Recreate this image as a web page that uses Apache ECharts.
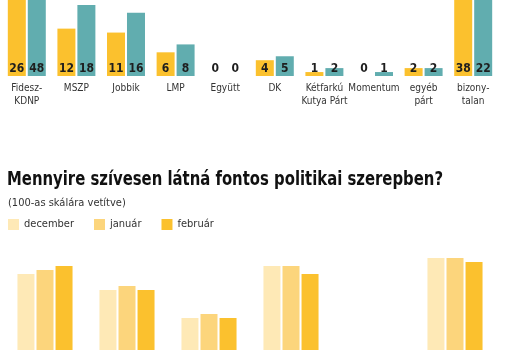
<!DOCTYPE html>
<html>
<head>
<meta charset="utf-8">
<script src="https://cdn.jsdelivr.net/npm/echarts@6/dist/echarts.min.js"></script>
<style>
  html, body { margin: 0; padding: 0; background: #fff; }
  #chart { width: 510px; height: 350px; }
</style>
</head>
<body>
<div id="chart"></div>
<script>
// upper chart (cropped at the top in the original)
const parties = ['Fidesz-\nKDNP', 'MSZP', 'Jobbik', 'LMP', 'Együtt', 'DK',
  'Kétfarkú\nKutya Párt', 'Momentum', 'egyéb\npárt', 'bizony-\ntalan']
const yellowValues = [26, 12, 11, 6, 0, 4, 1, 0, 2, 38]
const tealValues = [48, 18, 16, 8, 0, 5, 2, 1, 2, 22]

// lower chart (cropped at the bottom, category labels not visible)
const people = ['1', '2', '3', '4', '5', '6']
const months = ['december', 'január', 'február']
const decValues = [49, 45, 38, 51, null, 53]
const janValues = [50, 46, 39, 51, null, 53]
const febValues = [51, 45, 38, 49, null, 52]

const font = '"DejaVu Sans Condensed", Roboto, sans-serif'
const YELLOW = '#fbc12e'
const TEAL = '#61adaf'
const monthColors = ['#fee9b6', '#fcd57c', '#fbc12e']

const titleText = 'Mennyire szívesen látná fontos politikai szerepben?'
const titleSize = 19
// squeeze the title horizontally so it spans the same width as the original
const ctx = document.createElement('canvas').getContext('2d')
ctx.font = 'bold ' + titleSize + 'px ' + font
const titleScale = 436 / ctx.measureText(titleText).width

const chart = echarts.init(document.getElementById('chart'))

const barLabel = {
  show: true,
  position: 'insideBottom',
  distance: 1,
  color: '#1e1e1e',
  fontFamily: font,
  fontWeight: 'bold',
  fontSize: 12
}

const option = {
  animation: false,
  textStyle: { fontFamily: font },
  title: {
    text: '(100-as skálára vetítve)',
    left: 8,
    top: 198,
    padding: 0,
    textStyle: { fontFamily: font, fontSize: 11, fontWeight: 'normal', color: '#333' }
  },
  graphic: [
    {
      type: 'text',
      x: 7,
      y: 180,
      scaleX: titleScale,
      style: {
        text: titleText,
        font: 'bold ' + titleSize + 'px ' + font,
        fill: '#111',
        verticalAlign: 'middle'
      }
    }
  ],
  legend: {
    data: months,
    left: 8,
    top: 219,
    padding: 0,
    icon: 'rect',
    itemWidth: 11,
    itemHeight: 11,
    itemGap: 20,
    textStyle: { fontFamily: font, fontSize: 11, color: '#333' }
  },
  grid: [
    { left: 2, right: 12, top: 0, height: 76 },
    { left: 4, right: 14, top: 250, height: 100 }
  ],
  xAxis: [
    {
      type: 'category',
      gridIndex: 0,
      data: parties,
      axisLine: { show: false },
      axisTick: { show: false },
      axisLabel: {
        interval: 0,
        margin: 6,
        color: '#333',
        fontFamily: font,
        fontSize: 10,
        lineHeight: 13
      }
    },
    {
      type: 'category',
      gridIndex: 1,
      data: people,
      axisLine: { show: false },
      axisTick: { show: false },
      axisLabel: { show: false }
    }
  ],
  yAxis: [
    { type: 'value', gridIndex: 0, min: 0, max: 19.25, show: false, splitLine: { show: false } },
    { type: 'value', gridIndex: 1, min: 30, max: 55, show: false, splitLine: { show: false } }
  ],
  series: [
    {
      name: 'A',
      type: 'bar',
      xAxisIndex: 0,
      yAxisIndex: 0,
      barWidth: 18,
      barGap: '11%',
      itemStyle: { color: YELLOW },
      label: barLabel,
      data: yellowValues
    },
    {
      name: 'B',
      type: 'bar',
      xAxisIndex: 0,
      yAxisIndex: 0,
      barWidth: 18,
      barGap: '11%',
      itemStyle: { color: TEAL },
      label: barLabel,
      data: tealValues
    },
    ...[decValues, janValues, febValues].map((d, i) => ({
      name: months[i],
      type: 'bar',
      xAxisIndex: 1,
      yAxisIndex: 1,
      barWidth: 17,
      barGap: '12%',
      itemStyle: { color: monthColors[i] },
      data: d
    }))
  ]
}

chart.setOption(option)
</script>
</body>
</html>
